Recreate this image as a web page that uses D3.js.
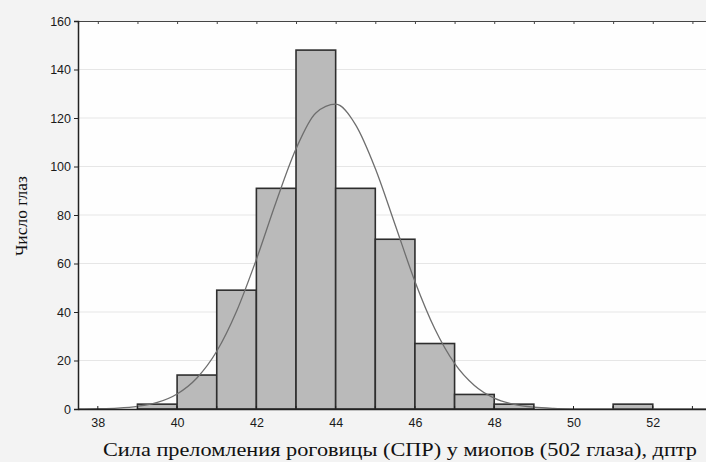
<!DOCTYPE html>
<html><head><meta charset="utf-8">
<script src="https://cdn.jsdelivr.net/npm/d3@7"></script>
<style>html,body{margin:0;padding:0;background:#f3f3f3;}svg{display:block;}</style>
</head><body>
<script>
// Histogram bins (lower edge of 1-dioptre bins) and counts
const binStarts = [39, 40, 41, 42, 43, 44, 45, 46, 47, 48, 51];
const counts    = [2, 14, 49, 91, 148, 91, 70, 27, 6, 2, 2];
// Expected normal curve
const curveX = [37.5, 38, 38.5, 39, 39.5, 40, 40.5, 41, 41.5, 42, 42.5, 43, 43.5, 44, 44.5, 45, 45.5, 46, 46.5, 47, 47.5, 48, 48.5, 49, 49.5, 50, 51, 52, 53, 53.5];
const curveY = [0.04, 0.13, 0.39, 1.1, 2.7, 6.2, 12.8, 23.8, 40.3, 61.7, 85.5, 107.3, 122.1, 125.7, 117.3, 99.2, 76.0, 52.6, 33.1, 18.8, 9.7, 4.5, 1.9, 0.73, 0.25, 0.08, 0, 0, 0, 0];
const xTicks = [38, 40, 42, 44, 46, 48, 50, 52];
const yTicks = [0, 20, 40, 60, 80, 100, 120, 140, 160];
const xTitle = "Сила преломления роговицы (СПР) у миопов (502 глаза), дптр";
const yTitle = "Число глаз";

const W = 706, H = 462;
const svg = d3.select("body").append("svg").attr("width", W).attr("height", H);
const mLeft = 78, mTop = 21, mBottom = 409;
const x = d3.scaleLinear().domain([37.5, 53.5]).range([mLeft, mLeft + 16 * 39.64]);
const y = d3.scaleLinear().domain([0, 160]).range([mBottom, mTop]);

// plot background
svg.append("rect").attr("x", mLeft).attr("y", mTop).attr("width", x(53.5) - mLeft).attr("height", mBottom - mTop).attr("fill", "#fefefe");

// gridlines
svg.append("g").selectAll("line").data(yTicks.slice(1, -1)).join("line")
  .attr("x1", mLeft).attr("x2", x(53.5)).attr("y1", d => y(d)).attr("y2", d => y(d))
  .attr("stroke", "#e6e6e6").attr("stroke-width", 1);

// bars
svg.append("g").selectAll("rect").data(binStarts.map((b, i) => ({b, c: counts[i]}))).join("rect")
  .attr("x", d => x(d.b)).attr("width", d => x(d.b + 1) - x(d.b))
  .attr("y", d => y(d.c)).attr("height", d => y(0) - y(d.c))
  .attr("fill", "#bababa").attr("stroke", "#2e2e2e").attr("stroke-width", 1.6);

// normal curve
const line = d3.line().x((d, i) => x(curveX[i])).y(d => y(d)).curve(d3.curveMonotoneX);
svg.append("path").datum(curveY).attr("d", line).attr("fill", "none").attr("stroke", "#6e6e6e").attr("stroke-width", 1.3);

// axes
const axisColor = "#222";
const bottomAxis = d3.axisBottom(x).tickValues(xTicks).tickSize(0).tickPadding(9).tickFormat(d3.format("d"));
const gx = svg.append("g").attr("transform", `translate(0,${mBottom})`).call(bottomAxis);
gx.select(".domain").attr("stroke", axisColor).attr("stroke-width", 1.5);
gx.selectAll("text").attr("font-family", "Liberation Sans, Arial, sans-serif").attr("font-size", 12.5).attr("fill", "#1a1a1a");

// inward minor ticks on bottom and top
const intTicks = d3.range(38, 54);
svg.append("g").selectAll("line").data(intTicks).join("line")
  .attr("x1", d => x(d)).attr("x2", d => x(d)).attr("y1", mBottom).attr("y2", mBottom - 3)
  .attr("stroke", axisColor).attr("stroke-width", 1);
const topAxis = d3.axisTop(x).tickValues(intTicks).tickSize(-3).tickFormat("");
const gt = svg.append("g").attr("transform", `translate(0,${mTop})`).call(topAxis);
gt.select(".domain").attr("stroke", "#444").attr("stroke-width", 1.2);
gt.selectAll("line").attr("stroke", "#444");

const leftAxis = d3.axisLeft(y).tickValues(yTicks).tickSize(4).tickPadding(3);
const gy = svg.append("g").attr("transform", `translate(${mLeft},0)`).call(leftAxis);
gy.select(".domain").attr("stroke", axisColor).attr("stroke-width", 1.5);
gy.selectAll("line").attr("stroke", axisColor);
gy.selectAll("text").attr("font-family", "Liberation Sans, Arial, sans-serif").attr("font-size", 12.5).attr("fill", "#1a1a1a");

// titles
svg.append("text").attr("x", 400).attr("y", 456).attr("text-anchor", "middle")
  .attr("font-family", "Liberation Serif, Times New Roman, serif").attr("font-size", 19).attr("fill", "#111")
  .attr("textLength", 594).attr("lengthAdjust", "spacingAndGlyphs")
  .text(xTitle);
svg.append("text").attr("transform", "translate(27,216) rotate(-90)").attr("text-anchor", "middle")
  .attr("font-family", "Liberation Serif, Times New Roman, serif").attr("font-size", 17.5).attr("fill", "#111")
  .text(yTitle);
</script>
</body></html>
